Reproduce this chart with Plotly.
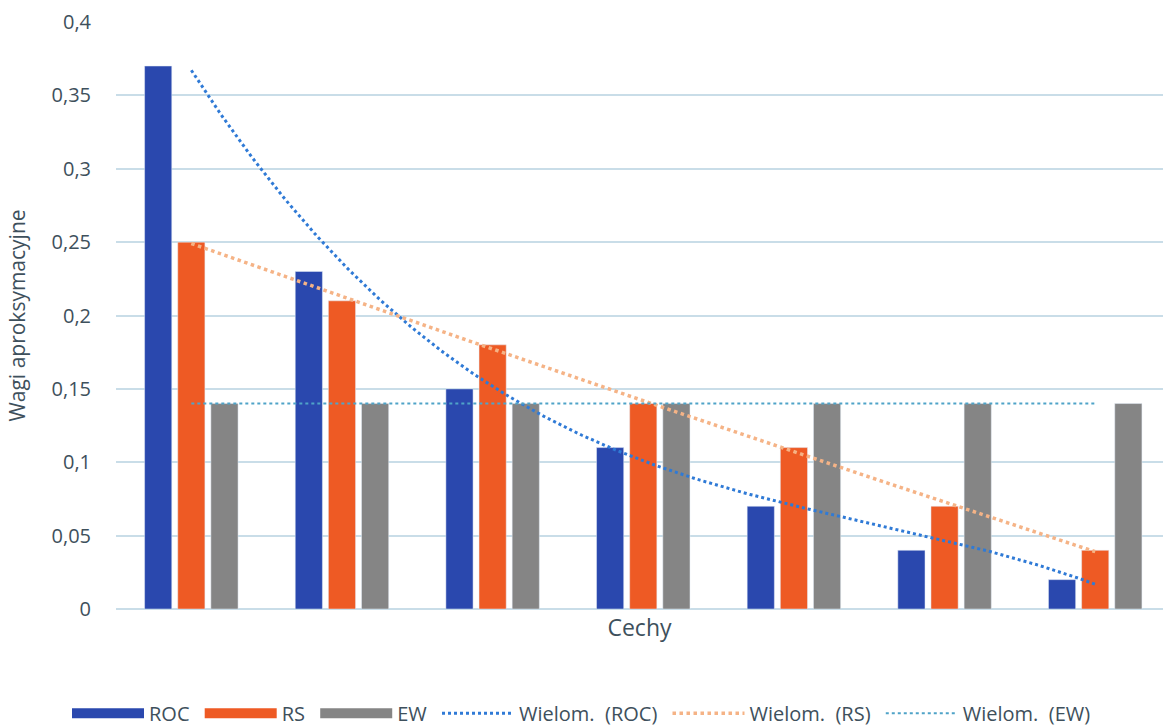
import numpy as np
import plotly.graph_objects as go

# Weights per feature (7 features) for three weighting methods
features = [1, 2, 3, 4, 5, 6, 7]
roc = [0.37, 0.23, 0.15, 0.11, 0.07, 0.04, 0.02]
rs = [0.25, 0.21, 0.18, 0.14, 0.11, 0.07, 0.04]
ew = [0.14, 0.14, 0.14, 0.14, 0.14, 0.14, 0.14]
y_ticks = [0, 0.05, 0.1, 0.15, 0.2, 0.25, 0.3, 0.35, 0.4]

pos = np.arange(len(features))

C_ROC = "#2A48AE"
C_RS = "#EE5A24"
C_EW = "#858585"
TXT = "#3E505C"
FONT = "Open Sans"
PAD = "\u00a0"  # extra spacing after each legend label


def poly_trend(values, deg=3):
    coef = np.polyfit(pos, values, deg)
    xs = np.linspace(pos[0], pos[-1], 200)
    return xs, np.polyval(coef, xs)


fig = go.Figure()
# bars; their legend keys are drawn as wide solid strips
for name, vals, col in [("ROC", roc, C_ROC), ("RS", rs, C_RS), ("EW", ew, C_EW)]:
    fig.add_trace(go.Bar(x=pos, y=vals, name=name, marker_color=col,
                         legendgroup=name, showlegend=False))
    fig.add_trace(go.Scatter(x=[None], y=[None], mode="lines", name=name + PAD,
                             legendgroup=name, line=dict(color=col, width=12)))

xs, ys = poly_trend(roc)
fig.add_trace(go.Scatter(x=xs, y=ys, mode="lines", name="Wielom.  (ROC)" + PAD,
                         line=dict(color="#2F7AD6", width=3, dash="dot")))
xs, ys = poly_trend(rs)
fig.add_trace(go.Scatter(x=xs, y=ys, mode="lines", name="Wielom.  (RS)" + PAD,
                         line=dict(color="#F5B386", width=3.5, dash="dot")))
xs, ys = poly_trend(ew, deg=0)
fig.add_trace(go.Scatter(x=xs, y=ys, mode="lines", name="Wielom.  (EW)",
                         line=dict(color="#4FA3C8", width=2, dash="dot")))

fig.update_layout(
    width=1163, height=727,
    margin=dict(l=116, r=0, t=22, b=118),
    paper_bgcolor="white", plot_bgcolor="white",
    separators=", ",
    font=dict(family=FONT, size=21, color=TXT),
    barmode="group", bargap=0.34, bargroupgap=0.18,
    showlegend=True,
    legend=dict(orientation="h", xref="container", yref="container",
                x=0.5, xanchor="center", y=0.019, yanchor="middle",
                font=dict(size=20, color=TXT), itemwidth=72,
                traceorder="normal"),
)
fig.update_xaxes(range=[-0.5, 6.45], showticklabels=False, showgrid=False,
                 zeroline=False, ticks="",
                 title=dict(text="Cechy", font=dict(size=23, color=TXT), standoff=10))
fig.update_yaxes(range=[0, 0.4], tickvals=y_ticks, showgrid=True,
                 gridcolor="#C9DDE8", gridwidth=1.5, zeroline=True,
                 zerolinecolor="#C9DDE8", zerolinewidth=1.5, ticks="",
                 ticklabelstandoff=24, tickfont=dict(size=20),
                 title=dict(text="Wagi aproksymacyjne", font=dict(size=21, color=TXT),
                            standoff=20))

fig.write_html("out.html")
